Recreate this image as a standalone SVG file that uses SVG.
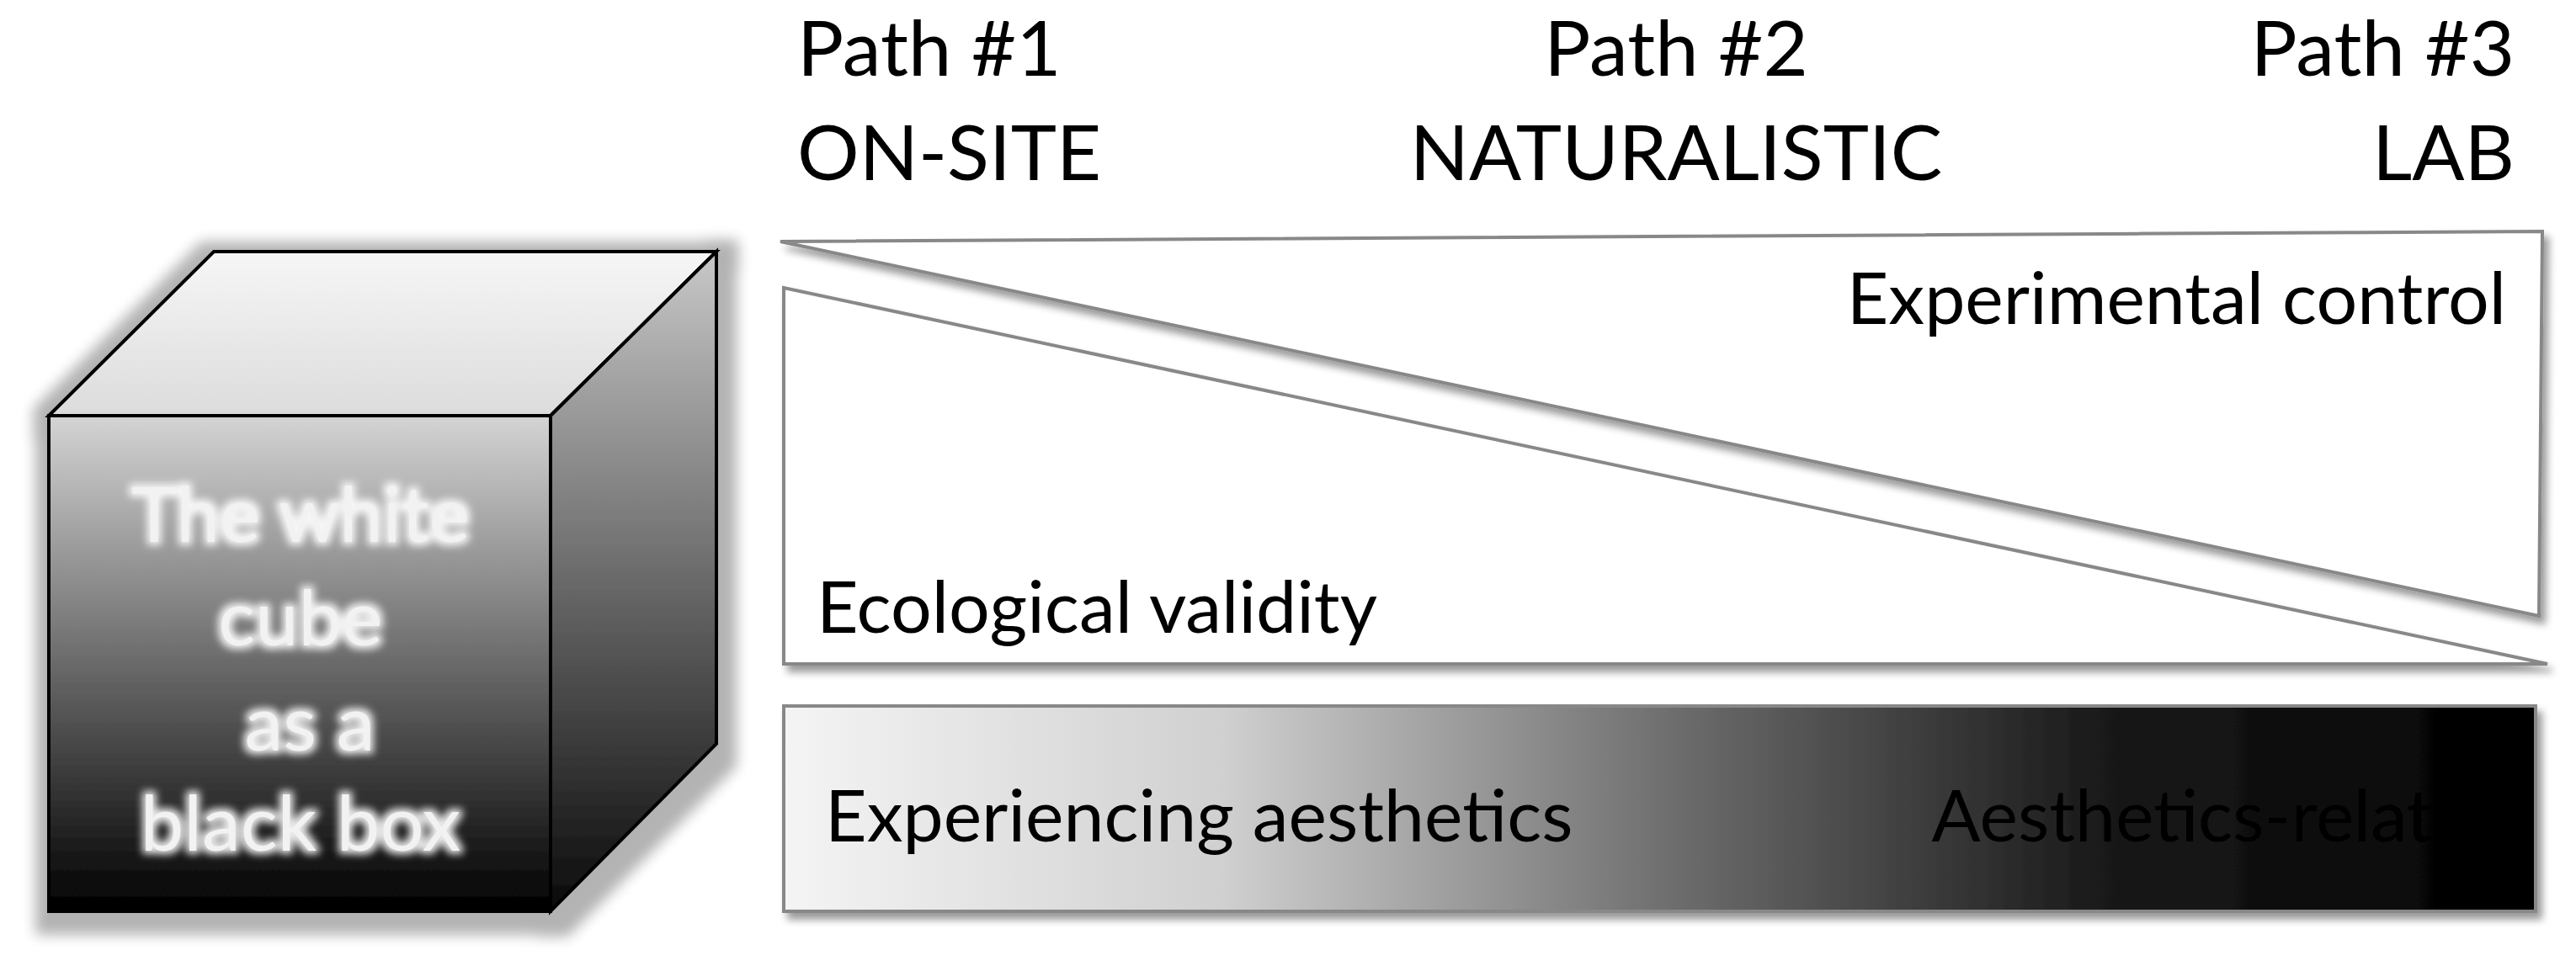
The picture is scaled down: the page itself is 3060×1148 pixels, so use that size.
<svg xmlns="http://www.w3.org/2000/svg" width="3060" height="1148" viewBox="0 0 3060 1148">
<defs>
<style>
text{font-family:"Lato","Open Sans","Liberation Sans",sans-serif}
.hd{font-size:92px;fill:#000}
.lb{font-size:86px;fill:#000}
.cube{font-size:92px;fill:#f2f2f2;text-anchor:middle}
.shape{stroke:#888;stroke-width:4;fill:#fff}
</style>
<filter id="sh" x="-10%" y="-10%" width="130%" height="130%"><feGaussianBlur in="SourceAlpha" stdDeviation="5"/><feOffset dx="6" dy="8" result="b"/><feComponentTransfer in="b" result="c"><feFuncA type="linear" slope="0.4"/></feComponentTransfer><feMerge><feMergeNode in="c"/><feMergeNode in="SourceGraphic"/></feMerge></filter>
<filter id="glow" x="-20%" y="-20%" width="140%" height="140%"><feMorphology in="SourceAlpha" operator="dilate" radius="4"/><feGaussianBlur stdDeviation="5"/><feComponentTransfer result="g"><feFuncA type="linear" slope="0.9"/></feComponentTransfer><feFlood flood-color="#ffffff"/><feComposite in2="g" operator="in" result="w"/><feMerge><feMergeNode in="w"/><feMergeNode in="SourceGraphic"/></feMerge></filter>
<filter id="halo" x="-10%" y="-10%" width="125%" height="125%"><feMorphology in="SourceAlpha" operator="dilate" radius="18"/><feGaussianBlur stdDeviation="8"/><feOffset dx="4" dy="8"/><feComponentTransfer result="h"><feFuncA type="linear" slope="0.3"/></feComponentTransfer><feMerge><feMergeNode in="h"/><feMergeNode in="SourceGraphic"/></feMerge></filter>
<linearGradient id="front" x1="0" y1="0" x2="0" y2="1"><stop offset="0" stop-color="#d4d4d4"/><stop offset="1" stop-color="#000"/></linearGradient>
<linearGradient id="side" x1="0" y1="0" x2="0" y2="1"><stop offset="0" stop-color="#c8c8c8"/><stop offset="1" stop-color="#0a0a0a"/></linearGradient>
<linearGradient id="top" x1="0" y1="0" x2="0" y2="1"><stop offset="0" stop-color="#f6f6f6"/><stop offset="1" stop-color="#dcdcdc"/></linearGradient>
<linearGradient id="bar" x1="0" y1="0" x2="1" y2="0"><stop offset="0" stop-color="#f4f4f4"/><stop offset="0.25" stop-color="#d0d0d0"/><stop offset="0.5" stop-color="#707070"/><stop offset="0.75" stop-color="#1a1a1a"/><stop offset="1" stop-color="#000"/></linearGradient>
</defs>
<g id="cube" filter="url(#halo)">
<polygon points="58,494 254,299 851,299 654,494" fill="url(#top)" stroke="#000" stroke-width="4"/>
<polygon points="654,494 851,299 851,884 654,1083" fill="url(#side)" stroke="#000" stroke-width="4"/>
<rect x="58" y="494" width="596" height="589" fill="url(#front)" stroke="#000" stroke-width="4"/>
</g>
<g id="cube-label" filter="url(#glow)">
<text class="cube" x="357" y="644">The white</text>
<text class="cube" x="357" y="767">cube</text>
<text class="cube" x="368" y="892">as a</text>
<text class="cube" x="357" y="1011">black box</text>
</g>
<g id="headers">
<text class="hd" x="947" y="90">Path #1</text>
<text class="hd" x="947" y="214">ON-SITE</text>
<text class="hd" x="1991" y="90" text-anchor="middle">Path #2</text>
<text class="hd" x="1991" y="214" text-anchor="middle">NATURALISTIC</text>
<text class="hd" x="2987" y="90" text-anchor="end">Path #3</text>
<text class="hd" x="2987" y="214" text-anchor="end">LAB</text>
</g>
<g id="control" filter="url(#sh)">
<polygon class="shape" points="927,287 3020,275 3016,732"/>
<text class="lb" x="2977" y="385" text-anchor="end">Experimental control</text>
</g>
<g id="validity" filter="url(#sh)">
<polygon class="shape" points="931,342 931,789 3026,789"/>
<text class="lb" x="970" y="752">Ecological validity</text>
</g>
<g id="aesthetics" filter="url(#sh)">
<rect x="931" y="839" width="2081" height="244" fill="url(#bar)" stroke="#888" stroke-width="4"/>
<text class="lb" x="980" y="1000">Experiencing aesthetics</text>
<text class="lb" x="2983" y="1000" text-anchor="end" fill="#fff">Aesthetics-related</text>
</g>
<g id="connectors"/>
</svg>
